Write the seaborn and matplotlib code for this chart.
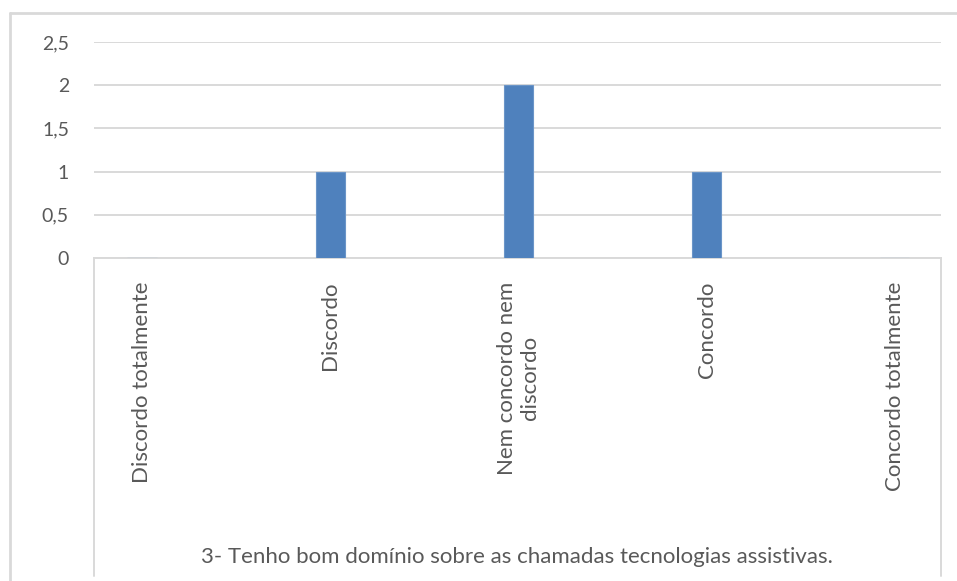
import matplotlib
matplotlib.use("Agg")
import matplotlib.pyplot as plt
import seaborn as sns
import pandas as pd
from matplotlib.lines import Line2D
from matplotlib.ticker import FuncFormatter

categories = ["Discordo totalmente", "Discordo", "Nem concordo nem\ndiscordo",
              "Concordo", "Concordo totalmente"]
values = [0, 1, 2, 1, 0]
y_ticks = [0, 0.5, 1, 1.5, 2, 2.5]
title = "3- Tenho bom domínio sobre as chamadas tecnologias assistivas."

sns.set_style("white")
plt.rcParams['font.family'] = ['Lato', 'DejaVu Sans']

df = pd.DataFrame({"cat": categories, "val": values})

fig = plt.figure(figsize=(9.57, 5.81), dpi=100)
ax = fig.add_axes([94 / 957, 1 - 258 / 581, (941 - 94) / 957, (258 - 42) / 581])

sns.barplot(data=df, x="cat", y="val", color="#4f81bd", width=0.155,
            edgecolor="#6b95c8", linewidth=0.8, saturation=1, ax=ax, zorder=3)

ax.set_xlim(-0.255, 4.245)
ax.set_ylim(0, 2.5)
ax.set_yticks(y_ticks)
ax.yaxis.set_major_formatter(FuncFormatter(lambda v, p: f"{v:g}".replace(".", ",")))
ax.grid(axis="y", color="#d9d9d9", linewidth=1.4, zorder=0)
ax.set_xlabel("")
ax.set_ylabel("")
for s in ["top", "right", "left"]:
    ax.spines[s].set_visible(False)
ax.spines["bottom"].set_color("#d9d9d9")
ax.spines["bottom"].set_linewidth(1.4)
ax.tick_params(axis="y", length=0, pad=18, labelsize=14, labelcolor="#595959")
ax.tick_params(axis="x", length=0, pad=17, labelsize=16, labelcolor="#595959")
plt.setp(ax.get_xticklabels(), rotation=90, va="top", ha="center", multialignment="center")

# category-axis box and outer chart border
grey = "#d9d9d9"
fig.add_artist(Line2D([94 / 957, 94 / 957], [1 - 258 / 581, 1 - 576 / 581], color=grey, lw=1.4))
fig.add_artist(Line2D([941 / 957, 941 / 957], [1 - 258 / 581, 1 - 576 / 581], color=grey, lw=1.4))
fig.add_artist(Line2D([10 / 957, 10 / 957], [1 - 13 / 581, 0], color=grey, lw=2))
fig.add_artist(Line2D([10 / 957, 1], [1 - 13 / 581, 1 - 13 / 581], color=grey, lw=2))

fig.text(517 / 957, 1 - 557 / 581, title, ha="center", va="center",
         fontsize=16, color="#595959")

fig.savefig("out.png", dpi=100)
